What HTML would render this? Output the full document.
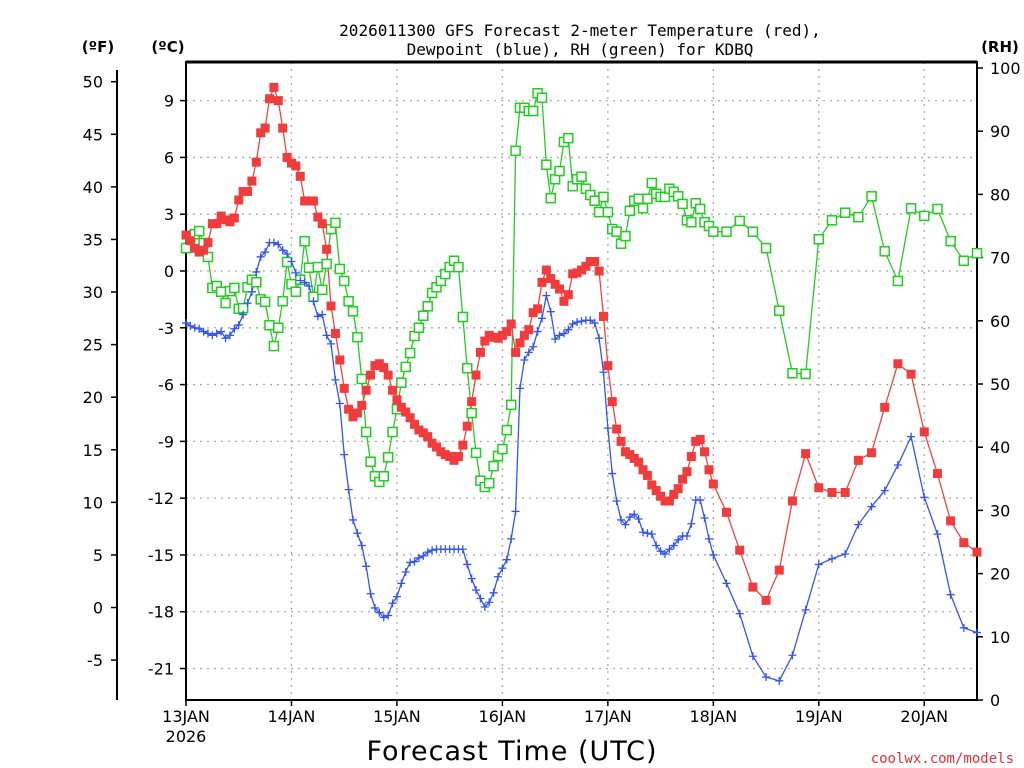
<!DOCTYPE html>
<html><head><meta charset="utf-8"><style>
body{margin:0;background:#fff;}
svg{display:block;font-family:"DejaVu Sans","Liberation Sans",sans-serif;}
</style></head><body>
<svg id="chart" width="1024" height="768" viewBox="0 0 1024 768" xmlns="http://www.w3.org/2000/svg">
<g font-family="DejaVu Sans Mono, Liberation Mono, monospace" font-size="16" text-anchor="middle" fill="#000">
<text x="580" y="36">2026011300 GFS Forecast 2-meter Temperature (red),</text>
<text x="580" y="55">Dewpoint (blue), RH (green) for KDBQ</text>
</g>
<text x="98" y="52" font-size="15" font-weight="bold" text-anchor="middle">(ºF)</text>
<text x="168" y="52" font-size="15" font-weight="bold" text-anchor="middle">(ºC)</text>
<text x="1000" y="52" font-size="15" font-weight="bold" text-anchor="middle">(RH)</text>
<text x="512" y="760" font-size="27" text-anchor="middle" letter-spacing="1">Forecast Time (UTC)</text>
<text x="1014" y="763" font-family="DejaVu Sans Mono, Liberation Mono, monospace" font-size="14" fill="#e03030" text-anchor="end">coolwx.com/models</text>
<g id="grid"></g>
<g id="axes"></g>
<g id="series"></g>
</svg>
<script>
const hourlyTemp = [1.9,1.6,1.2,1.0,1.1,1.5,2.5,2.5,2.9,2.7,2.6,2.8,3.75,4.2,4.2,4.75,5.75,7.3,7.55,9.1,9.7,9.0,7.55,6.0,5.7,5.55,5.0,3.7,3.7,3.7,2.85,2.5,1.15,-1.85,-3.3,-4.7,-6.2,-7.3,-7.7,-7.5,-7.1,-6.3,-5.5,-5.0,-4.9,-5.1,-5.5,-6.3,-6.8,-7.2,-7.45,-7.75,-8.1,-8.4,-8.55,-8.75,-9.1,-9.3,-9.55,-9.7,-9.8,-10.0,-9.8,-9.2,-8.2,-6.9,-5.5,-4.3,-3.7,-3.4,-3.5,-3.55,-3.4,-3.2,-2.8,-4.3,-3.8,-3.4,-3.1,-2.2,-2.0,-0.6,0.05,-0.4,-0.7,-0.95,-1.6,-1.25,-0.15,-0.1,0.05,0.25,0.5,0.5,0,-2.4,-5.0,-6.9,-8.35,-9.0,-9.55,-9.7,-9.9,-10.1,-10.5,-10.8,-11.3,-11.6,-11.9,-12.15,-12.15,-11.8,-11.5,-11.0,-10.6,-9.8,-9.0,-8.9,-9.55,-10.5,-11.25];
const tailTemp = [-12.75,-14.75,-16.7,-17.4,-15.8,-12.15,-9.65,-11.45,-11.7,-11.7,-10.0,-9.6,-7.2,-4.9,-5.45,-8.5,-10.7,-13.2,-14.35,-14.85];
const hourlyDew = [-2.75,-2.9,-3.0,-3.05,-3.2,-3.3,-3.4,-3.3,-3.2,-3.55,-3.4,-3.05,-2.85,-2.3,-1.7,-1.1,-0.05,0.75,1.0,1.5,1.5,1.4,1.1,0.9,0.5,-0.1,-0.5,-0.6,-0.8,-1.6,-2.4,-2.3,-3.4,-3.85,-5.75,-7.0,-9.7,-11.55,-13.15,-13.85,-14.5,-15.6,-17.05,-17.8,-18.05,-18.3,-18.2,-17.55,-17.2,-16.5,-15.9,-15.4,-15.35,-15.15,-15.05,-14.85,-14.75,-14.7,-14.7,-14.7,-14.7,-14.7,-14.7,-14.7,-15.5,-16.25,-16.85,-17.3,-17.75,-17.5,-17.0,-16.15,-15.7,-15.25,-14.15,-12.7,-6.2,-4.7,-4.3,-4.0,-3.2,-2.5,-1.3,-2.15,-3.6,-3.4,-3.3,-3.1,-2.8,-2.7,-2.65,-2.6,-2.6,-2.75,-3.55,-5.35,-8.3,-10.7,-12.15,-13.15,-13.4,-13.0,-12.85,-13.1,-13.8,-13.85,-13.9,-14.5,-14.8,-14.95,-14.7,-14.5,-14.2,-14.0,-14.0,-13.35,-12.1,-12.1,-13.05,-14.15,-15.0];
const tailDew = [-16.5,-18.1,-20.35,-21.45,-21.65,-20.3,-17.9,-15.5,-15.2,-14.95,-13.4,-12.45,-11.6,-10.25,-8.75,-11.95,-13.9,-17.1,-18.85,-19.1];
const hourlyRH = [71.5,73.3,73.7,74.2,72.3,70.1,65.2,65.5,64.6,62.8,64.7,65.2,61.9,62.0,65.3,66.5,66.1,63.4,63.0,59.3,56.0,58.9,63.1,69.3,65.8,64.6,66.5,72.6,68.4,63.8,68.5,64.9,69.0,74.5,75.5,68.2,66.3,63.1,61.5,57.4,50.8,42.4,37.7,35.4,34.5,35.4,38.4,42.4,46.0,50.2,52.7,54.9,57.6,58.9,60.8,62.3,64.4,65.3,66.3,67.4,68.5,69.5,68.5,60.6,52.5,45.4,39.1,34.7,33.7,34.3,37.0,38.6,39.7,42.7,46.7,86.9,93.7,93.7,93.2,93.2,96.0,95.3,84.7,79.4,82.4,83.7,88.3,88.9,81.3,82.4,82.8,80.9,79.9,79.0,77.2,79.6,77.2,74.5,74.1,72.2,73.4,77.4,79.0,79.3,77.8,79.3,81.8,80.1,79.6,79.6,80.9,80.4,79.7,78.5,75.9,75.6,78.6,77.7,75.6,75.0,74.1];
const tailRH = [74.1,75.8,74.1,71.5,61.6,51.7,51.6,72.9,75.9,77.1,76.4,79.7,71.0,66.3,77.8,76.6,77.7,72.6,69.5,70.7];
const dayLabels = ["13JAN","14JAN","15JAN","16JAN","17JAN","18JAN","19JAN","20JAN"];
const celsiusTicks = [9,6,3,0,-3,-6,-9,-12,-15,-18,-21];
const fahrenheitTicks = [50,45,40,35,30,25,20,15,10,5,0,-5];
const rhTicks = [100,90,80,70,60,50,40,30,20,10,0];

const hours = [];
for (let h = 0; h <= 120; h++) hours.push(h);
for (let h = 123; h <= 180; h += 3) hours.push(h);
const temp = hourlyTemp.concat(tailTemp);
const dew = hourlyDew.concat(tailDew);
const rh = hourlyRH.concat(tailRH);

const X0 = 186, X1 = 977, YT = 62, YB = 700;
const xS = h => X0 + h * (X1 - X0) / 180;
const yC = c => 271 - c * 18.93;
const yF = f => yC((f - 32) / 1.8);
const yR = r => YB - r * (YB - 68) / 100;
const NS = "http://www.w3.org/2000/svg";
function mk(parent, tag, attrs) {
  const e = document.createElementNS(NS, tag);
  for (const k in attrs) e.setAttribute(k, attrs[k]);
  parent.appendChild(e);
  return e;
}
const gridG = document.getElementById('grid');
const axesG = document.getElementById('axes');
const seriesG = document.getElementById('series');

celsiusTicks.forEach(c => {
  const l = mk(gridG, 'line', {x1: X0, x2: X1, y1: yC(c), y2: yC(c), stroke: '#aaa', 'stroke-width': 1.3, 'stroke-dasharray': '2,5'});
  
  
  const t = mk(axesG, 'line', {x1: X0 - 6, x2: X0, y1: yC(c), y2: yC(c), stroke: '#000', 'stroke-width': 1.5});
  
  
  const tx = mk(axesG, 'text', {x: 174, y: yC(c) + 6, 'font-size': 16, 'text-anchor': 'end'});
  tx.textContent = c;
  
  
});
dayLabels.forEach((d, i) => {
  const x = xS(i * 24);
  if (i > 0) {
    const l = mk(gridG, 'line', {x1: x, x2: x, y1: YT, y2: YB, stroke: '#aaa', 'stroke-width': 1.3, 'stroke-dasharray': '2,5'});
    
    
  }
  const t = mk(axesG, 'line', {x1: x, x2: x, y1: YB, y2: YB + 6, stroke: '#000', 'stroke-width': 1.5});
  
  
  const tx = mk(axesG, 'text', {x: x, y: 722, 'font-size': 16, 'text-anchor': 'middle'});
  tx.textContent = d;
  
  
});
const yr = mk(axesG, 'text', {x: 186, y: 742, 'font-size': 16, 'text-anchor': 'middle'});
yr.textContent = '2026';



fahrenheitTicks.forEach(f => {
  const t = mk(axesG, 'line', {x1: 111, x2: 117, y1: yF(f), y2: yF(f), stroke: '#000', 'stroke-width': 1.5});
  
  
  const tx = mk(axesG, 'text', {x: 103, y: yF(f) + 6, 'font-size': 16, 'text-anchor': 'end'});
  tx.textContent = f;
  
  
});
rhTicks.forEach(r => {
  const t = mk(axesG, 'line', {x1: X1, x2: X1 + 6, y1: yR(r), y2: yR(r), stroke: '#000', 'stroke-width': 1.5});
  
  
  const tx = mk(axesG, 'text', {x: 990, y: yR(r) + 6, 'font-size': 16, 'text-anchor': 'start'});
  tx.textContent = r;
  
  
});
const fl = mk(axesG, 'line', {x1: 117, x2: 117, y1: 70, y2: YB, stroke: '#000', 'stroke-width': 2});


const frame = mk(axesG, 'rect', {x: X0, y: YT, width: X1 - X0, height: YB - YT, fill: 'none', stroke: '#000', 'stroke-width': 2});


const topBorder = mk(axesG, 'line', {x1: X0, x2: X1, y1: YT, y2: YT, stroke: '#000', 'stroke-width': 3});



function drawLine(vals, yf, color, name) {
  const p = mk(seriesG, 'polyline', {points: vals.map((v, i) => xS(hours[i]) + ',' + yf(v)).join(' '), fill: 'none', stroke: color, 'stroke-width': 1.3});
  
  
}
drawLine(rh, yR, '#22cc22', 'rh-line');
drawLine(dew, yC, '#3355ee', 'dewpoint-line');
drawLine(temp, yC, '#ee4444', 'temperature-line');
rh.forEach((v, i) => {
  const m = mk(seriesG, 'rect', {x: xS(hours[i]) - 4.5, y: yR(v) - 4.5, width: 9, height: 9, fill: '#fff', stroke: '#22cc22', 'stroke-width': 1.5});
  
  
});
dew.forEach((v, i) => {
  const x = xS(hours[i]), y = yC(v);
  const m = mk(seriesG, 'path', {d: 'M' + (x - 4) + ' ' + y + 'H' + (x + 4) + 'M' + x + ' ' + (y - 4) + 'V' + (y + 4), stroke: '#3355ee', 'stroke-width': 1.3, fill: 'none'});
  
  
});
temp.forEach((v, i) => {
  const m = mk(seriesG, 'rect', {x: xS(hours[i]) - 4.5, y: yC(v) - 4.5, width: 9, height: 9, fill: '#f03c3c'});
  
  
});
</script>
</body></html>
